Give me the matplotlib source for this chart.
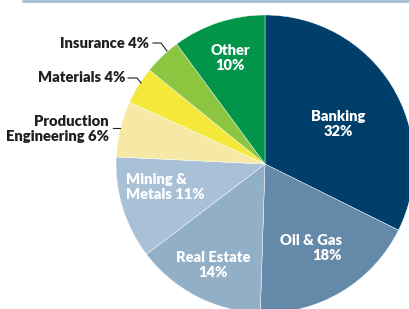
import matplotlib
matplotlib.use("Agg")
import matplotlib.pyplot as plt

W, H = 410, 309

sectors = ["Banking", "Oil & Gas", "Real Estate", "Mining & Metals",
           "Production Engineering", "Materials", "Insurance", "Other"]
shares  = [32, 18, 14, 11, 6, 4, 4, 10]
colors  = ["#013f6b", "#6589a9", "#91b0c8", "#a9c1d6",
           "#f6e9a6", "#f4e93b", "#8cc540", "#029549"]


def Y(py):
    # pixel row -> data y (axes spans the whole figure)
    return H - py


fig = plt.figure(figsize=(W / 100, H / 100), dpi=100)
ax = fig.add_axes([0, 0, 1, 1])

ax.pie(shares, colors=colors, startangle=90, counterclock=False,
       center=(265, Y(164)), radius=149, frame=True,
       wedgeprops=dict(linewidth=0.3, edgecolor="white"))
ax.set_xlim(0, W)
ax.set_ylim(0, H)
ax.set_aspect("equal")
ax.axis("off")

# thin rule at the top
ax.plot([22, W], [Y(1), Y(1)], color="#a3bdd3", lw=2, solid_capstyle="butt")

FONT = "Lato"
fs = 10.6
inside = dict(color="white", fontsize=fs, fontweight="heavy", family=FONT, linespacing=1.22)
outside = dict(color="#231f20", fontsize=fs, fontweight="heavy", family=FONT, linespacing=1.22)

ax.text(338, Y(124), f"{sectors[0]}\n{shares[0]}%", ha="center", va="center", **inside)
ax.text(342, Y(248), f"{sectors[1]}\n{shares[1]}%", ha="right", va="center",
        multialignment="right", **inside)
ax.text(213, Y(265), f"{sectors[2]}\n{shares[2]}%", ha="center", va="center", **inside)
ax.text(126, Y(187), f"Mining &\nMetals {shares[3]}%", ha="left", va="center",
        multialignment="left", **inside)
ax.text(230, Y(58), f"{sectors[7]}\n{shares[7]}%", ha="center", va="center", **inside)

ax.text(149, Y(44), f"{sectors[6]} {shares[6]}%", ha="right", va="center", **outside)
ax.text(125, Y(78), f"{sectors[5]} {shares[5]}%", ha="right", va="center", **outside)
ax.text(109, Y(129), f"Production\nEngineering {shares[4]}%", ha="right", va="center",
        multialignment="right", **outside)

# leader lines
lk = dict(color="#231f20", lw=0.8)
ax.plot([153, 161, 167], [Y(43), Y(43), Y(51)], **lk)
ax.plot([128, 137, 141], [Y(78), Y(78), Y(83)], **lk)
ax.plot([113, 120], [Y(128), Y(128)], **lk)

fig.savefig("out.png", dpi=100)
